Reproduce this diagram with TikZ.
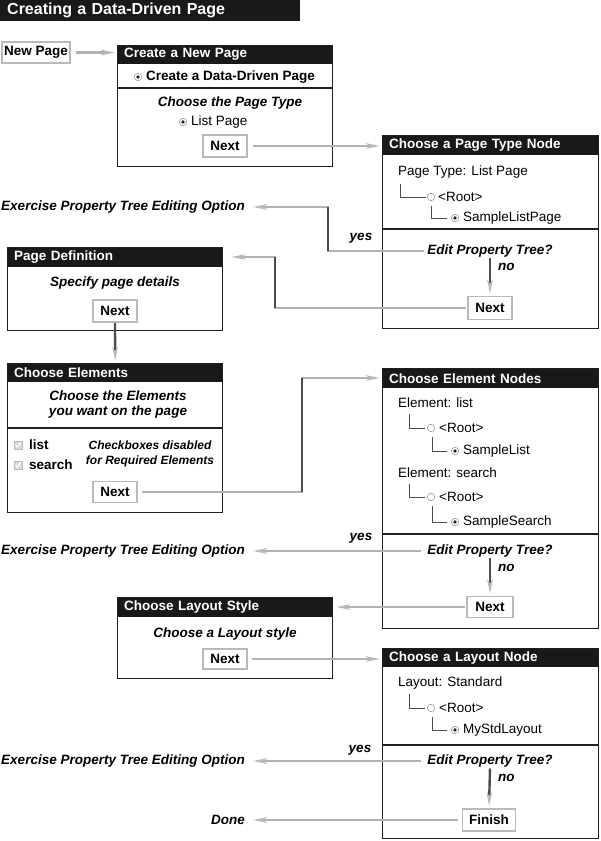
\documentclass[tikz,border=0pt]{standalone}
\usepackage{fontspec}
\setmainfont{Liberation Sans}
\usetikzlibrary{arrows.meta}
\begin{document}
\begin{tikzpicture}[x=1pt,y=-1pt,
  txt/.style={inner sep=0pt, font=\fontsize{13.5}{16}\selectfont},
  btxt/.style={inner sep=0pt, font=\fontsize{13.5}{16}\selectfont\bfseries},
  bitxt/.style={inner sep=0pt, font=\fontsize{13.5}{15}\selectfont\bfseries\itshape},
  panel/.style={draw=black!88, line width=1.3pt, anchor=north west, inner sep=0pt},
  header/.style={fill=black!90, text=white, anchor=north west, inner xsep=7pt, inner ysep=0pt, align=left, text width=#1, font=\fontsize{13.5}{16}\selectfont\bfseries},
  header/.default=201pt,
  btn/.style={draw=gray!55, line width=1.6pt, fill=white, inner sep=0pt, font=\fontsize{13.5}{16}\selectfont\bfseries},
  divline/.style={draw=black!88, line width=1.1pt},
  treeline/.style={draw=black!70, line width=0.8pt},
  conn/.style={draw=gray!60, line width=2.4pt, -{Stealth[length=14pt,width=5.5pt,inset=4pt,color=gray!55]}},
  vseg/.style={draw=black!70, line width=2.4pt},
  vconn/.style={draw=black!70, line width=2.4pt, -{Stealth[length=14pt,width=5.5pt,inset=4pt,color=gray!55]}},
  radioon/.pic={\draw[gray!70, line width=0.7pt, fill=white] (0,0) circle (3.7pt); \fill[black!85] (0,0) circle (1.9pt);},
  radiooff/.pic={\draw[gray!70, line width=0.7pt, fill=white] (0,0) circle (3.7pt);},
  chk/.pic={\draw[gray!55, fill=gray!30, line width=0.5pt] (-4.2,-4.2) rectangle (4.2,4.2); \draw[white, line width=1.2pt] (-2.4,0) -- (-0.7,2.1) -- (2.6,-2.5);}
]
\useasboundingbox (0,0) rectangle (600,841);

% Title
\node[fill=black!90, text=white, anchor=north west, minimum height=21pt, inner xsep=7pt, inner ysep=0pt, text width=286pt, align=left, font=\fontsize{16}{18}\selectfont\bfseries] (title) at (0,0) {Creating a Data-Driven Page};

% New Page button
\node[btn, minimum width=68pt, minimum height=21pt] (newpage) at (36,52.5) {New Page};

% Create a New Page
\node[header, minimum height=19pt] (cnph) at (117,45) {Create a New Page};
\node[panel, minimum width=215pt, minimum height=121pt] (cnp) at (117,45) {};
\draw[divline] (117,88) -- (332,88);
\pic at (138,77) {radioon};
\node[btxt, anchor=west] (cddp) at (146,77) {Create a Data-Driven Page};
\node[bitxt] (cpt) at (230,103) {Choose the Page Type};
\pic at (183,122) {radioon};
\node[txt, anchor=west] (lp) at (191,122) {List Page};
\node[btn, minimum width=44pt, minimum height=22pt] (next1) at (225,146) {Next};

% Choose a Page Type Node
\node[header=202pt, minimum height=20pt] (ptnh) at (382,135) {Choose a Page Type Node};
\node[panel, minimum width=216pt, minimum height=193pt] (ptn) at (382,135) {};
\draw[divline] (382,229) -- (598,229);
\node[txt, anchor=west] (ptl) at (398,172) {Page Type: List Page};
\draw[treeline] (400,184) |- (426,197);
\pic at (431,197) {radiooff};
\node[txt, anchor=west] (r1) at (438,197) {<Root>};
\draw[treeline] (431,206) |- (447,218);
\pic at (455,218) {radioon};
\node[txt, anchor=west] (slp) at (463,218) {SampleListPage};
\node[bitxt] (ept1) at (490,251) {Edit Property Tree?};
\node[bitxt, anchor=west] (no1) at (498,267) {no};
\node[btn, minimum width=44pt, minimum height=23pt] (next2) at (490,308) {Next};
\node[bitxt] (yes1) at (361,238) {yes};
\node[bitxt, anchor=east] (ex1) at (245,207) {Exercise Property Tree Editing Option};

% Page Definition
\node[header, minimum height=20pt] (pdh) at (7,247) {Page Definition};
\node[panel, minimum width=215pt, minimum height=83pt] (pd) at (7,247) {};
\node[bitxt] (spd) at (115,283) {Specify page details};
\node[btn, minimum width=44pt, minimum height=22pt] (next3) at (115,311) {Next};

% Choose Elements
\node[header, minimum height=19pt] (ceh) at (7,363) {Choose Elements};
\node[panel, minimum width=215pt, minimum height=149pt] (ce) at (7,363) {};
\draw[divline] (7,428) -- (222,428);
\node[bitxt, align=center] (cte) at (118,405) {Choose the Elements\\you want on the page};
\pic at (18,445) {chk};
\node[btxt, anchor=west] (lst) at (29,445) {list};
\pic at (18,465) {chk};
\node[btxt, anchor=west] (srch) at (29,465) {search};
\node[bitxt, align=center, font=\fontsize{12}{14.5}\selectfont\bfseries\itshape] (cbd) at (150,454) {Checkboxes disabled\\for Required Elements};
\node[btn, minimum width=44pt, minimum height=21pt] (next4) at (115,492) {Next};

% Choose Element Nodes
\node[header=202pt, minimum height=20pt] (cenh) at (382,368) {Choose Element Nodes};
\node[panel, minimum width=216pt, minimum height=260pt] (cen) at (382,368) {};
\draw[divline] (382,534) -- (598,534);
\node[txt, anchor=west] (el) at (398,403) {Element: list};
\draw[treeline] (409,414) |- (425,428);
\pic at (431,428) {radiooff};
\node[txt, anchor=west] (r2) at (439,428) {<Root>};
\draw[treeline] (432,437) |- (447,451);
\pic at (455,451) {radioon};
\node[txt, anchor=west] (sl) at (463,451) {SampleList};
\node[txt, anchor=west] (es) at (398,473) {Element: search};
\draw[treeline] (409,484) |- (425,497);
\pic at (431,497) {radiooff};
\node[txt, anchor=west] (r3) at (439,497) {<Root>};
\draw[treeline] (432,506) |- (447,522);
\pic at (455,522) {radioon};
\node[txt, anchor=west] (ss) at (463,522) {SampleSearch};
\node[bitxt] (ept2) at (490,551) {Edit Property Tree?};
\node[bitxt, anchor=west] (no2) at (498,568) {no};
\node[btn, minimum width=46pt, minimum height=21pt] (next5) at (490,607) {Next};
\node[bitxt] (yes2) at (361,538) {yes};
\node[bitxt, anchor=east] (ex2) at (245,551) {Exercise Property Tree Editing Option};

% Choose Layout Style
\node[header, minimum height=20pt] (clsh) at (117,597) {Choose Layout Style};
\node[panel, minimum width=215pt, minimum height=81pt] (cls) at (117,597) {};
\node[bitxt] (cals) at (225,634) {Choose a Layout style};
\node[btn, minimum width=44pt, minimum height=20pt] (next6) at (225,659) {Next};

% Choose a Layout Node
\node[header=202pt, minimum height=19pt] (clnh) at (382,648) {Choose a Layout Node};
\node[panel, minimum width=216pt, minimum height=190pt] (cln) at (382,648) {};
\draw[divline] (382,745) -- (598,745);
\node[txt, anchor=west] (ls) at (398,683) {Layout: Standard};
\draw[treeline] (409,694) |- (425,708);
\pic at (431,708) {radiooff};
\node[txt, anchor=west] (r4) at (439,708) {<Root>};
\draw[treeline] (432,717) |- (447,730);
\pic at (455,730) {radioon};
\node[txt, anchor=west] (msl) at (463,730) {MyStdLayout};
\node[bitxt] (ept3) at (490,761) {Edit Property Tree?};
\node[bitxt, anchor=west] (no3) at (498,778) {no};
\node[btn, minimum width=53pt, minimum height=22pt] (finish) at (489,820) {Finish};
\node[bitxt] (yes3) at (360,750) {yes};
\node[bitxt, anchor=east] (ex3) at (245,761) {Exercise Property Tree Editing Option};
\node[bitxt, anchor=east] (done) at (245,820) {Done};

% Connectors
\draw[conn, shorten <=5pt, shorten >=2pt] (newpage.east) -- (newpage.east -| cnp.west);
\draw[conn, shorten <=5pt, shorten >=2pt] (next1.east) -- (next1.east -| ptn.west);

\coordinate (b1) at (328,251);
\coordinate (b2) at (328,207);
\draw[conn, shorten <=3pt, shorten >=8pt] (ept1.west) -- (b1) -- (b2) -- (ex1.east);
\draw[vseg] (b1) -- (b2);
\draw[vconn, shorten <=1pt, shorten >=2pt] (ept1.south) -- (next2.north);

\coordinate (c1) at (275,308);
\coordinate (c2) at (275,257);
\draw[conn, shorten <=1pt, shorten >=8pt] (next2.west) -- (c1) -- (c2) -- (c2 -| pd.east);
\draw[vseg] (c1) -- (c2);

\draw[vconn, shorten >=2pt] (next3.south) -- (ce.north);

\coordinate (d1) at (302,492);
\coordinate (d2) at (302,378);
\draw[conn, shorten <=4pt, shorten >=2pt] (next4.east) -- (d1) -- (d2) -- (d2 -| cen.west);
\draw[vseg] (d1) -- (d2);

\draw[conn, shorten <=6pt, shorten >=8pt] (ept2.west) -- (ex2.east);
\draw[vconn, shorten <=1pt, shorten >=2pt] (ept2.south) -- (next5.north);
\draw[conn, shorten <=1pt, shorten >=3pt] (next5.west) -- (next5.west -| cls.east);
\draw[conn, shorten <=4pt, shorten >=2pt] (next6.east) -- (next6.east -| cln.west);

\draw[conn, shorten <=6pt, shorten >=8pt] (ept3.west) -- (ex3.east);
\draw[vconn, shorten <=1pt, shorten >=2pt] (ept3.south) -- (finish.north);
\draw[conn, shorten <=4pt, shorten >=8pt] (finish.west) -- (done.east);
\end{tikzpicture}
\end{document}
